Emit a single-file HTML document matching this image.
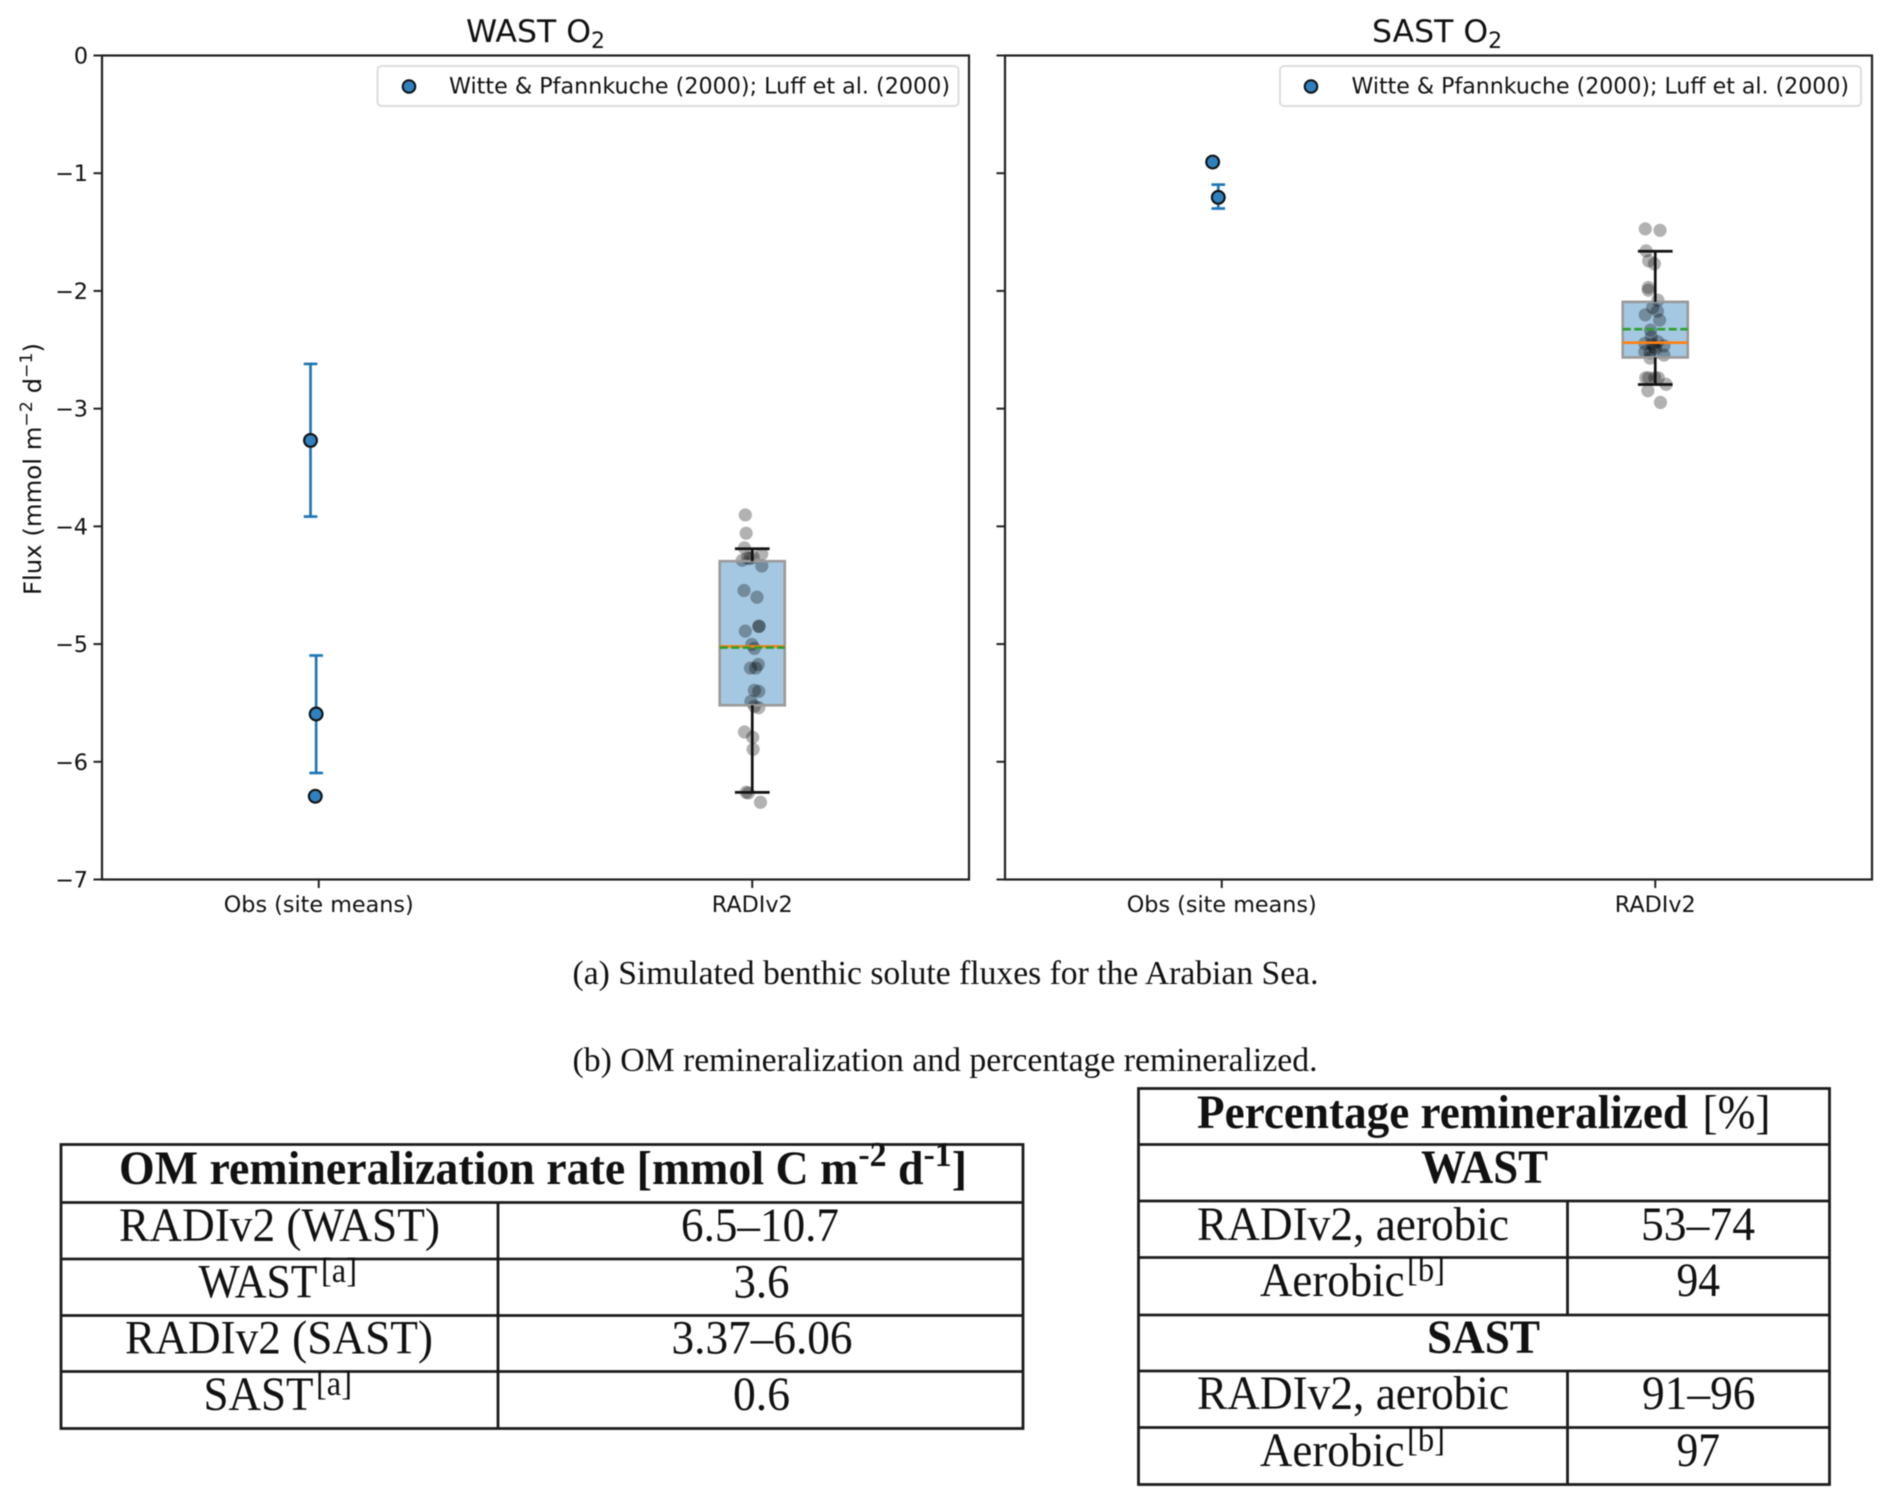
<!DOCTYPE html>
<html lang="en">
<head>
<meta charset="utf-8">
<title>Benthic fluxes and OM remineralization</title>
<style>
html,body{margin:0;padding:0;background:#fff;width:1892px;height:1505px;overflow:hidden}
svg{display:block;filter:blur(0.45px)}
.dj{font-family:"DejaVu Sans",sans-serif;fill:#111}
.tm{font-family:"Liberation Serif",serif;fill:#111}
.cell{font-size:47.5px}
.bold{font-weight:bold}
.sup{font-size:35px}
.tline{stroke:#1c1c1c;stroke-width:2.8;fill:none}
</style>
</head>
<body>
<svg id="fig" xmlns="http://www.w3.org/2000/svg" width="1892" height="1505" viewBox="0 0 1892 1505">
  <rect x="0" y="0" width="1892" height="1505" fill="#fff"/>
  <g id="panel-wast"></g>
  <g id="panel-sast"></g>

  <text class="dj" x="466" y="42" font-size="31.5">WAST O<tspan font-size="22" dy="6">2</tspan></text>
  <text class="dj" x="1372" y="42" font-size="31.5">SAST O<tspan font-size="22" dy="6">2</tspan></text>

  <text class="dj" transform="translate(41,595) rotate(-90)" x="0" y="0" font-size="24" textLength="252" lengthAdjust="spacingAndGlyphs">Flux (mmol m<tspan font-size="17" dy="-9">−2</tspan><tspan dy="9"> d</tspan><tspan font-size="17" dy="-9">−1</tspan><tspan dy="9">)</tspan></text>

  <g>
    <rect x="377.5" y="66" width="581" height="40" rx="4" fill="#fff" stroke="#ddd" stroke-width="2"/>
    <circle cx="409" cy="86.5" r="6.3" fill="#2f80be" stroke="#111" stroke-width="2"/>
    <text class="dj" x="449" y="93.5" font-size="22.3" textLength="501" lengthAdjust="spacingAndGlyphs">Witte &amp; Pfannkuche (2000); Luff et al. (2000)</text>
  </g>
  <g>
    <rect x="1280" y="66" width="581" height="40" rx="4" fill="#fff" stroke="#ddd" stroke-width="2"/>
    <circle cx="1311" cy="86.5" r="6.3" fill="#2f80be" stroke="#111" stroke-width="2"/>
    <text class="dj" x="1351.5" y="93.5" font-size="22.3" textLength="497.5" lengthAdjust="spacingAndGlyphs">Witte &amp; Pfannkuche (2000); Luff et al. (2000)</text>
  </g>

  <text class="tm" x="572.5" y="984" font-size="34" textLength="746" lengthAdjust="spacingAndGlyphs">(a) Simulated benthic solute fluxes for the Arabian Sea.</text>
  <text class="tm" x="572.5" y="1071" font-size="34" textLength="745" lengthAdjust="spacingAndGlyphs">(b) OM remineralization and percentage remineralized.</text>

  <g>
    <rect class="tline" x="61" y="1144.5" width="962" height="284"/>
    <line class="tline" x1="61" x2="1023" y1="1202.5" y2="1202.5"/>
    <line class="tline" x1="61" x2="1023" y1="1259" y2="1259"/>
    <line class="tline" x1="61" x2="1023" y1="1315.5" y2="1315.5"/>
    <line class="tline" x1="61" x2="1023" y1="1371.5" y2="1371.5"/>
    <line class="tline" x1="498" x2="498" y1="1202.5" y2="1428.5"/>

    <text class="tm cell bold" x="119" y="1184" textLength="848" lengthAdjust="spacingAndGlyphs">OM remineralization rate [mmol C m<tspan class="sup" dy="-18">-2</tspan><tspan dy="18"> d</tspan><tspan class="sup" dy="-18">-1</tspan><tspan dy="18">]</tspan></text>

    <text class="tm cell" x="119" y="1241" textLength="321" lengthAdjust="spacingAndGlyphs">RADIv2 (WAST)</text>
    <text class="tm cell" x="681" y="1241" textLength="158" lengthAdjust="spacingAndGlyphs">6.5–10.7</text>
    <text class="tm cell" x="198.5" y="1297.5" textLength="119" lengthAdjust="spacingAndGlyphs">WAST</text>
    <text class="tm sup" x="321" y="1282" textLength="36" lengthAdjust="spacingAndGlyphs">[a]</text>
    <text class="tm cell" x="733.5" y="1297.5" textLength="56" lengthAdjust="spacingAndGlyphs">3.6</text>
    <text class="tm cell" x="125" y="1353.5" textLength="308" lengthAdjust="spacingAndGlyphs">RADIv2 (SAST)</text>
    <text class="tm cell" x="671.5" y="1353.5" textLength="181" lengthAdjust="spacingAndGlyphs">3.37–6.06</text>
    <text class="tm cell" x="203.5" y="1410" textLength="110" lengthAdjust="spacingAndGlyphs">SAST</text>
    <text class="tm sup" x="316" y="1395" textLength="36" lengthAdjust="spacingAndGlyphs">[a]</text>
    <text class="tm cell" x="733" y="1410" textLength="57" lengthAdjust="spacingAndGlyphs">0.6</text>
  </g>

  <g>
    <rect class="tline" x="1138.5" y="1088.5" width="691" height="396"/>
    <line class="tline" x1="1138.5" x2="1829.5" y1="1144.5" y2="1144.5"/>
    <line class="tline" x1="1138.5" x2="1829.5" y1="1201" y2="1201"/>
    <line class="tline" x1="1138.5" x2="1829.5" y1="1257.5" y2="1257.5"/>
    <line class="tline" x1="1138.5" x2="1829.5" y1="1315" y2="1315"/>
    <line class="tline" x1="1138.5" x2="1829.5" y1="1371" y2="1371"/>
    <line class="tline" x1="1138.5" x2="1829.5" y1="1427.5" y2="1427.5"/>
    <line class="tline" x1="1567.5" x2="1567.5" y1="1201" y2="1315"/>
    <line class="tline" x1="1567.5" x2="1567.5" y1="1371" y2="1484.5"/>

    <text class="tm cell bold" x="1197" y="1128" textLength="491" lengthAdjust="spacingAndGlyphs">Percentage remineralized</text>
    <text class="tm cell" x="1702.5" y="1128" textLength="68" lengthAdjust="spacingAndGlyphs">[%]</text>
    <text class="tm cell bold" x="1421" y="1183" textLength="127" lengthAdjust="spacingAndGlyphs">WAST</text>
    <text class="tm cell" x="1197" y="1240" textLength="312" lengthAdjust="spacingAndGlyphs">RADIv2, aerobic</text>
    <text class="tm cell" x="1641" y="1240" textLength="114" lengthAdjust="spacingAndGlyphs">53–74</text>
    <text class="tm cell" x="1260" y="1296" textLength="144.5" lengthAdjust="spacingAndGlyphs">Aerobic</text>
    <text class="tm sup" x="1407" y="1281" textLength="38" lengthAdjust="spacingAndGlyphs">[b]</text>
    <text class="tm cell" x="1676.5" y="1296" textLength="43.5" lengthAdjust="spacingAndGlyphs">94</text>
    <text class="tm cell bold" x="1427" y="1353" textLength="113" lengthAdjust="spacingAndGlyphs">SAST</text>
    <text class="tm cell" x="1197" y="1409" textLength="312" lengthAdjust="spacingAndGlyphs">RADIv2, aerobic</text>
    <text class="tm cell" x="1642" y="1409" textLength="113.5" lengthAdjust="spacingAndGlyphs">91–96</text>
    <text class="tm cell" x="1260" y="1466" textLength="144.5" lengthAdjust="spacingAndGlyphs">Aerobic</text>
    <text class="tm sup" x="1407" y="1451" textLength="38" lengthAdjust="spacingAndGlyphs">[b]</text>
    <text class="tm cell" x="1676.5" y="1466" textLength="43.5" lengthAdjust="spacingAndGlyphs">97</text>
  </g>
</svg>

<script>
// ---- shared axis data ----
const categories = ['Obs (site means)', 'RADIv2'];
const yTicks = [0, -1, -2, -3, -4, -5, -6, -7];

// ---- WAST O2 ----
const wastObsX = [0.981, 0.994, 0.992];
const wastObsY = [-3.27, -5.594, -6.293];
const wastObsErrTop = [-2.62, -5.097, null];
const wastObsErrBottom = [-3.917, -6.095, null];
const wastBox = [-4.19, -4.296, -5.02, -5.03, -5.52, -6.26]; // whisker top, q3, median, mean, q1, whisker bottom
const wastPointsX = [1.984,1.986,1.982,2.022,1.977,1.989,2.002,1.995,2.022,1.981,2.011,2.016,2.015,1.984,1.999,2.005,2.014,1.996,2.008,2.005,2.015,1.997,2.005,2.015,1.982,2.001,2.002,1.986,1.991,2.019];
const wastPointsY = [-3.903,-4.058,-4.183,-4.234,-4.288,-4.268,-4.262,-4.273,-4.336,-4.545,-4.602,-4.848,-4.850,-4.890,-5.003,-5.037,-5.173,-5.204,-5.204,-5.393,-5.402,-5.487,-5.529,-5.541,-5.747,-5.792,-5.894,-6.259,-6.265,-6.344];

// ---- SAST O2 ----
const sastObsX = [0.979, 0.992];
const sastObsY = [-0.905, -1.205];
const sastObsErrTop = [null, -1.097];
const sastObsErrBottom = [null, -1.30];
const sastBox = [-1.663, -2.093, -2.44, -2.325, -2.565, -2.795];
const sastPointsX = [1.977,2.011,1.979,1.985,1.998,1.984,1.984,2.006,1.994,2.005,1.977,2.010,1.989,1.991,2.006,1.976,1.993,2.020,2.001,1.976,1.988,1.997,2.020,1.988,1.978,1.985,1.999,2.007,2.025,1.983,2.012];
const sastPointsY = [-1.473,-1.485,-1.660,-1.745,-1.770,-1.971,-1.994,-2.079,-2.141,-2.172,-2.203,-2.248,-2.333,-2.390,-2.432,-2.446,-2.452,-2.466,-2.489,-2.517,-2.526,-2.475,-2.545,-2.571,-2.738,-2.738,-2.738,-2.738,-2.794,-2.848,-2.947];

const NS = 'http://www.w3.org/2000/svg';
const plotTop = 55.5, plotBottom = 879.5, plotWidth = 867;
const yMin = -7, yMax = 0, xMin = 0.5, xMax = 2.5;
const boxWidth = 0.15, capWidth = 0.08;

function yScale(v) {
  return plotTop + (yMax - v) / (yMax - yMin) * (plotBottom - plotTop);
}

function shape(parent, tag, attrs) {
  const el = document.createElementNS(NS, tag);
  for (const k in attrs) el.setAttribute(k, attrs[k]);
  parent.appendChild(el);
  return el;
}

function drawPanel(parent, left, showLabels, obsX, obsY, errTop, errBottom, box, ptsX, ptsY) {
  const xScale = function (v) { return left + (v - xMin) / (xMax - xMin) * plotWidth; };
  const spine = '#222';

  // y ticks
  yTicks.forEach(function (t) {
    const tick = shape(parent, 'line', { x1: left - 8.5, x2: left, y1: yScale(t), y2: yScale(t), stroke: spine, 'stroke-width': 2 });
    
    
    if (showLabels) {
      const lab = shape(parent, 'text', { x: left - 14, y: yScale(t) + 8, 'text-anchor': 'end', 'font-size': 22.3, class: 'dj' });
      
      
      lab.textContent = t === 0 ? '0' : '\u2212' + Math.abs(t);
    }
  });

  // x ticks
  categories.forEach(function (c, i) {
    const px = xScale(i + 1);
    const tick = shape(parent, 'line', { x1: px, x2: px, y1: plotBottom, y2: plotBottom + 8.5, stroke: spine, 'stroke-width': 2 });
    
    
    const lab = shape(parent, 'text', { x: px, y: 912, 'text-anchor': 'middle', 'font-size': 22.3, class: 'dj' });
    
    
    lab.textContent = c;
  });

  // observation error bars
  obsX.forEach(function (x, i) {
    if (errTop[i] === null) return;
    const px = xScale(x);
    const stem = shape(parent, 'line', { x1: px, x2: px, y1: yScale(errTop[i]), y2: yScale(errBottom[i]), stroke: '#1f77b4', 'stroke-width': 2.7 });
    
    
    [errTop[i], errBottom[i]].forEach(function (e) {
      const cap = shape(parent, 'line', { x1: px - 6.8, x2: px + 6.8, y1: yScale(e), y2: yScale(e), stroke: '#1f77b4', 'stroke-width': 2.7 });
      
      
    });
  });

  // observation points
  obsX.forEach(function (x, i) {
    const dot = shape(parent, 'circle', { cx: xScale(x), cy: yScale(obsY[i]), r: 6.4, fill: '#2f80be', stroke: '#111', 'stroke-width': 2.1 });
    
    
  });

  // box: whisker top, q3, median, mean, q1, whisker bottom
  const cx = xScale(2);
  const halfBox = (xScale(2 + boxWidth) - cx) / 2;
  const halfCap = (xScale(2 + capWidth) - cx) / 2;
  const rect = shape(parent, 'rect', { x: cx - halfBox, y: yScale(box[1]), width: 2 * halfBox, height: yScale(box[4]) - yScale(box[1]), fill: '#a4c8e1' });
  
  

  // jittered model points
  ptsX.forEach(function (x, i) {
    const p = shape(parent, 'circle', { cx: xScale(x), cy: yScale(ptsY[i]), r: 6.6, fill: '#000', 'fill-opacity': 0.3 });
    
    
  });

  const outline = shape(parent, 'rect', { x: cx - halfBox, y: yScale(box[1]), width: 2 * halfBox, height: yScale(box[4]) - yScale(box[1]), fill: 'none', stroke: '#9a9a9a', 'stroke-width': 2.6 });
  
  

  const wt = shape(parent, 'line', { x1: cx, x2: cx, y1: yScale(box[0]), y2: yScale(box[1]), stroke: '#111', 'stroke-width': 2.7 });
  
  
  const wb = shape(parent, 'line', { x1: cx, x2: cx, y1: yScale(box[4]), y2: yScale(box[5]), stroke: '#111', 'stroke-width': 2.7 });
  
  
  const ct = shape(parent, 'line', { x1: cx - halfCap, x2: cx + halfCap, y1: yScale(box[0]), y2: yScale(box[0]), stroke: '#111', 'stroke-width': 2.7 });
  
  
  const cb = shape(parent, 'line', { x1: cx - halfCap, x2: cx + halfCap, y1: yScale(box[5]), y2: yScale(box[5]), stroke: '#111', 'stroke-width': 2.7 });
  
  

  const med = shape(parent, 'line', { x1: cx - halfBox, x2: cx + halfBox, y1: yScale(box[2]), y2: yScale(box[2]), stroke: '#ff7f0e', 'stroke-width': 2.6 });
  
  
  const mean = shape(parent, 'line', { x1: cx - halfBox, x2: cx + halfBox, y1: yScale(box[3]), y2: yScale(box[3]), stroke: '#2ca02c', 'stroke-width': 2.6, 'stroke-dasharray': '8 3.5' });
  
  

  // plot frame
  const frame = shape(parent, 'rect', { x: left, y: plotTop, width: plotWidth, height: plotBottom - plotTop, fill: 'none', stroke: spine, 'stroke-width': 2.2 });
  
  
}

drawPanel(document.getElementById('panel-wast'), 102, true, wastObsX, wastObsY, wastObsErrTop, wastObsErrBottom, wastBox, wastPointsX, wastPointsY);
drawPanel(document.getElementById('panel-sast'), 1005, false, sastObsX, sastObsY, sastObsErrTop, sastObsErrBottom, sastBox, sastPointsX, sastPointsY);
</script>
</body>
</html>
